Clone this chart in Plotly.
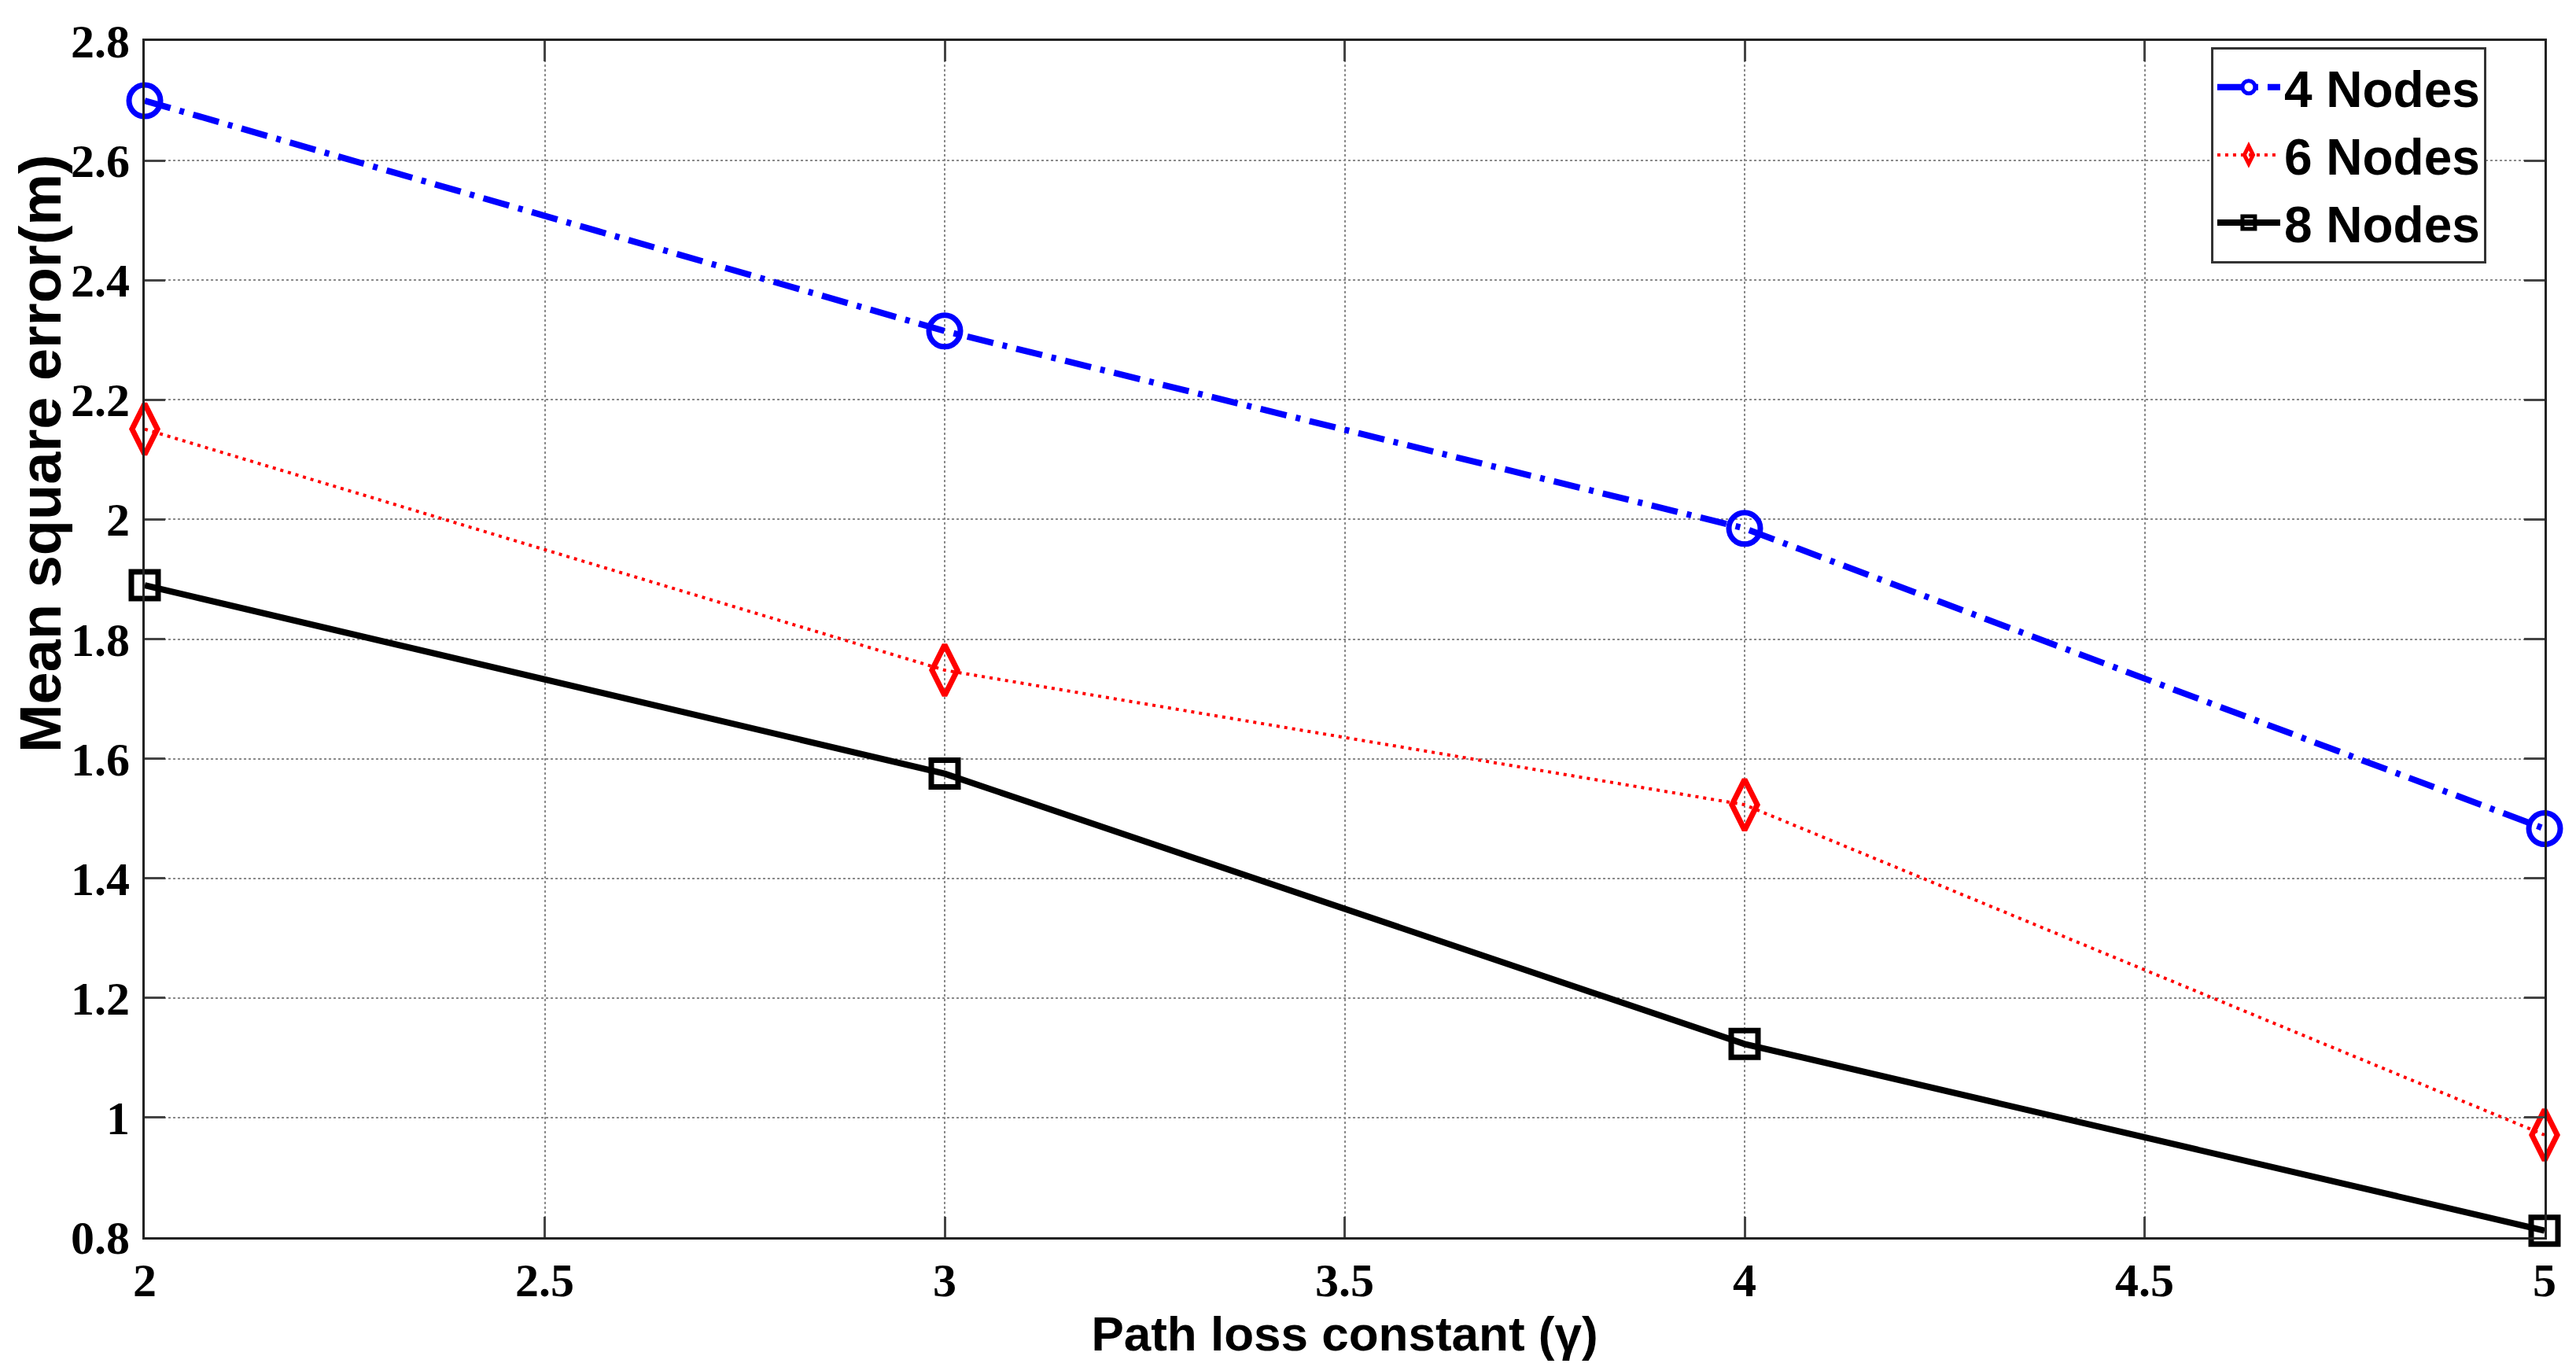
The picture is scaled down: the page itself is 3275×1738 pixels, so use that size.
import plotly.graph_objects as go

gamma = [2, 3, 4, 5]
mse_4_nodes = [2.70, 2.315, 1.985, 1.483]
mse_6_nodes = [2.151, 1.748, 1.523, 0.971]
mse_8_nodes = [1.890, 1.575, 1.123, 0.811]

x_tick_vals = [2, 2.5, 3, 3.5, 4, 4.5, 5]
x_tick_text = ["2", "2.5", "3", "3.5", "4", "4.5", "5"]
y_tick_vals = [0.8, 1.0, 1.2, 1.4, 1.6, 1.8, 2.0, 2.2, 2.4, 2.6, 2.8]
y_tick_text = ["0.8", "1", "1.2", "1.4", "1.6", "1.8", "2", "2.2", "2.4", "2.6", "2.8"]

fig = go.Figure()
fig.add_trace(go.Scatter(
    x=gamma, y=mse_4_nodes, name="4 Nodes", mode="lines+markers",
    line=dict(color="#0000FF", width=8, dash="34px,12px,6px,12px"),
    marker=dict(symbol="circle-open", size=40, color="#0000FF", line=dict(width=7, color="#0000FF")),
    cliponaxis=False,
))
fig.add_trace(go.Scatter(
    x=gamma, y=mse_6_nodes, name="6 Nodes", mode="lines+markers",
    line=dict(color="#FF0000", width=4, dash="4px,6px"),
    marker=dict(symbol="diamond-tall-open", size=46, color="#FF0000", line=dict(width=7, color="#FF0000")),
    cliponaxis=False,
))
fig.add_trace(go.Scatter(
    x=gamma, y=mse_8_nodes, name="8 Nodes", mode="lines+markers",
    line=dict(color="#000000", width=8),
    marker=dict(symbol="square-open", size=34, color="#000000", line=dict(width=7, color="#000000")),
    cliponaxis=False,
))

tick_font = dict(family="Liberation Serif", size=60, color="black", weight="bold")

fig.update_layout(
    width=3259, height=1722,
    margin=dict(l=176, r=32, t=38, b=157),
    paper_bgcolor="white", plot_bgcolor="white",
    font=dict(family="Liberation Sans", color="black"),
    showlegend=True,
    legend=dict(
        x=0.861, y=0.995, xanchor="left", yanchor="top",
        bgcolor="white", bordercolor="#333333", borderwidth=3,
        font=dict(family="Liberation Sans", size=64, color="black", weight="bold"),
        itemwidth=80, tracegroupgap=0,
    ),
    xaxis=dict(
        range=[2, 5], tickvals=x_tick_vals, ticktext=x_tick_text,
        tickfont=tick_font, ticklabeloverflow="allow",
        showgrid=True, gridcolor="#8a8a8a", gridwidth=2, griddash="dot",
        showline=True, linecolor="#222222", linewidth=3, mirror="ticks",
        ticks="inside", ticklen=26, tickwidth=3, tickcolor="#444444",
        zeroline=False,
        title=dict(text="<b>Path loss constant (γ)</b>",
                   font=dict(family="Liberation Sans", size=62, color="black"),
                   standoff=2),
    ),
    yaxis=dict(
        range=[0.8, 2.8], tickvals=y_tick_vals, ticktext=y_tick_text,
        tickfont=tick_font, ticklabeloverflow="allow",
        showgrid=True, gridcolor="#8a8a8a", gridwidth=2, griddash="dot",
        showline=True, linecolor="#222222", linewidth=3, mirror="ticks",
        ticks="inside", ticklen=26, tickwidth=3, tickcolor="#444444",
        zeroline=False,
        ticklabelstandoff=4,
    ),
    annotations=[dict(
        text="<b>Mean square error(m)</b>", textangle=-90,
        xref="paper", yref="paper", x=-0.0435, y=0.655,
        xanchor="center", yanchor="middle", showarrow=False,
        font=dict(family="Liberation Sans", size=74, color="black"),
    )],
)

fig.write_html("out.html")
